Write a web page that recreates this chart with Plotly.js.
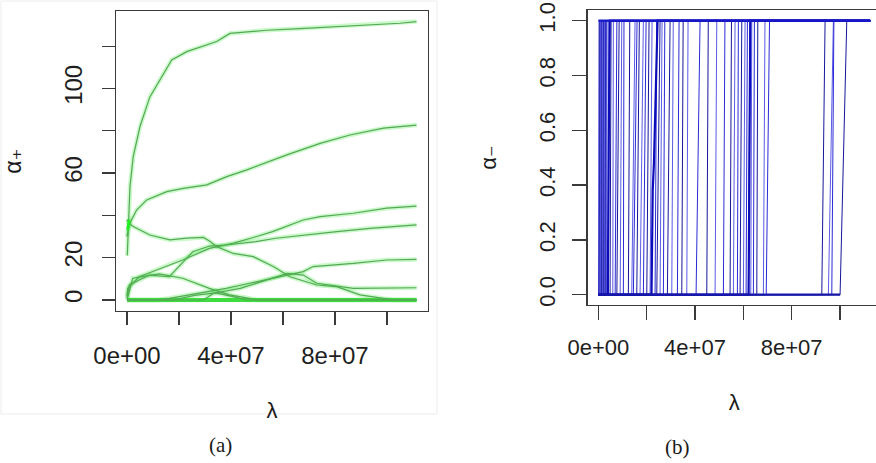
<!DOCTYPE html>
<html>
<head>
<meta charset="utf-8">
<script src="https://cdn.plot.ly/plotly-3.0.1.min.js"></script>
<style>
html,body{margin:0;padding:0;overflow:hidden;background:#fff;}
#chart{width:884px;height:463px;}
</style>
</head>
<body>
<div id="chart"></div>
<script>
// ---------- Panel (a): alpha+ paths (lambda in units of 1e6) ----------
const a1x = [0.1,0.5,1.15,2.4,5,8.8,13,17.2,23,34.5,39.6,53.7,66.5,79.3,92.2,105,111.4];
const a1y = [21,31.5,53.6,67.8,82,96,105,113.5,117.4,122.2,126,127.5,128.3,129.2,129.8,130.8,131.6];
const a2x = [0,0.8,1.8,3.7,7.6,15.3,21.7,30.7,38.4,46.1,61.5,74.3,85.8,98.7,111.4];
const a2y = [30,35,38,42.5,47.3,51.2,52.8,54.4,58.3,61.5,68.6,74,78,81.2,82.7];
const a3x = [0,1,2.4,8.8,16.5,23,29.4,32,34.5,40.9,48.6,56.3,62.7,73,80.7,89.6,98.6,102.3,111.4];
const a3y = [38,36,34.7,30.7,28.4,29.2,29.6,27.6,25.2,22,20.5,15.8,11,7.1,6.3,2.4,0.8,0,0];
const a4x = [0,0.3,4.7,11.2,21.4,31.7,40.7,49.6,56,67.8,74.3,87.1,99.9,111.4];
const a4y = [2,5.5,11,14.2,18.9,24.4,26.8,29.9,32.3,37.8,39.4,41,43.4,44.4];
const a5x = [0,0.9,8.6,16.3,25.3,31.7,38.1,49.6,57.3,67.8,80.7,93.5,111.4];
const a5y = [1,7.1,11.8,11,22.8,25.5,26,27.6,29.2,30.7,32.3,33.9,35.5];
const a6x = [0,2.2,12.4,21.4,31.7,39.4,47.1,49.6,111.4];
const a6y = [0,10.3,12.3,10.3,5.5,2.4,0.8,0,0];
const a7x = [0,12,16.3,27.8,38.1,47.1,56,62.7,67.8,71.6,87.1,99.9,111.4];
const a7y = [0,0,0.8,3.2,5.5,7.9,10.3,11.8,13.4,15.8,17.3,18.9,19.2];
const a8x = [0,29.5,33.3,43.6,53.8,61.8,67.8,73,87.1,111.4];
const a8y = [0,0,3.2,5.5,9.5,12.6,11.8,7.9,5.5,5.8];
const a9x = [0,18,26,34,40,46,111.4];
const a9y = [0,0,2.2,3.4,1.8,0,0];
const a0x = [0,111.4];
const a0y = [0,0];

// ---------- Panel (b): alpha- switches 0 -> 1 (lambda from, lambda to, 1e6) ----------
const swFrom = [0.1,0.4,0.7,1.0,1.3,1.6,1.9,2.2,2.5,2.8,3.1,3.4,
  4.14,4.84,5.96,6.95,7.66,9.03,10.35,12.42,13.83,14.49,15.9,17.26,18.63,20.04,21.4,
  23.47,24.18,25.54,26.91,28.57,30.39,32.71,34.53,36.6,40.45,44.88,48.31,51.75,54.52,
  55.89,57.55,58.66,60.03,61.15,62.1,63.09,64.17,65.58,68.31,69.49,92.49,95.22,96.63,100.06];
const swTo = [0.3,0.6,0.9,1.2,1.5,1.8,2.1,2.4,2.7,3.0,3.3,3.6,
  4.43,5.26,6.21,7.66,8.61,9.69,10.6,13.0,15.19,16.02,16.97,18.63,19.75,20.99,22.23,
  24.18,25.54,26.37,27.5,29.69,31.0,33.41,35.1,37.13,42.1,45.5,49.02,52.4,55.1,
  56.59,57.96,59.37,60.73,61.7,62.8,63.51,64.6,66.0,68.97,70.85,93.85,97.29,97.5,102.84];
const bMax = 112.5;
// intermediate-valued paths
const m1x = [0,3.9,4.3,4.7,112.5];      const m1y = [0,0,0.55,1,1];
const m2x = [0,22,22.5,23,23.5,24,24.5,112.5]; const m2y = [0,0,0.38,0.48,0.65,0.85,1,1];
const m3x = [0,62.2,62.5,62.9,112.5];   const m3y = [0,0,0.45,1,1];

const xTickAll = [0,20,40,60,80,100];
const xTickLab = [0,40,80];
const xTickText = ["0e+00","4e+07","8e+07"];
const yTickAllA = [0,20,40,60,80,100,120];
const yTickLabA = [0,20,60,100];
const yTickTextA = ["0","20","60","100"];
const yTickValsB = [0,0.2,0.4,0.6,0.8,1.0];
const yTickTextB = ["0.0","0.2","0.4","0.6","0.8","1.0"];

const M = 1e6;
const sc = arr => arr.map(v => v*M);

const traces = [];
const aPaths = [[a1x,a1y],[a2x,a2y],[a3x,a3y],[a4x,a4y],[a5x,a5y],[a6x,a6y],[a7x,a7y],[a8x,a8y],[a9x,a9y]];
aPaths.forEach(p => traces.push({x:sc(p[0]),y:p[1],type:'scatter',mode:'lines',xaxis:'x',yaxis:'y',
  line:{color:'rgba(70,235,70,0.28)',width:4.5},hoverinfo:'skip',showlegend:false}));
traces.push({x:sc(a0x),y:a0y,type:'scatter',mode:'lines',xaxis:'x',yaxis:'y',
  line:{color:'#3fdc3f',width:4},showlegend:false});
aPaths.forEach(p => traces.push({x:sc(p[0]),y:p[1],type:'scatter',mode:'lines',xaxis:'x',yaxis:'y',
  line:{color:'#55a855',width:1.2},showlegend:false}));
traces.push({x:sc([0.3,0.6,0.9]),y:[33,36,38],type:'scatter',mode:'lines',xaxis:'x',yaxis:'y',
  line:{color:'#22ee22',width:3},showlegend:false});

const blues = ['#2a2ad6','#16169a','#5a5ae6'];
swFrom.forEach((s,i) => traces.push({x:sc([0,s,swTo[i],bMax]),y:[0,0,1,1],type:'scatter',mode:'lines',
  xaxis:'x2',yaxis:'y2',line:{color:blues[i%3],width:1},showlegend:false}));
[[m1x,m1y],[m2x,m2y],[m3x,m3y]].forEach(p => traces.push({x:sc(p[0]),y:p[1],type:'scatter',mode:'lines',
  xaxis:'x2',yaxis:'y2',line:{color:'#0c0cb8',width:2.2},showlegend:false}));
traces.push({x:sc([0,bMax]),y:[1,1],type:'scatter',mode:'lines',xaxis:'x2',yaxis:'y2',
  line:{color:'#1818c8',width:2.2},showlegend:false});
traces.push({x:sc([0,swFrom[swFrom.length-1]]),y:[0,0],type:'scatter',mode:'lines',xaxis:'x2',yaxis:'y2',
  line:{color:'#1818a8',width:2.2},showlegend:false});

const W = 884, H = 463;
const SANS = 'Liberation Sans, DejaVu Sans, Arial, sans-serif';
const tf = {family:SANS, size:24, color:'#1e1e1e'};
const tfB = {family:SANS, size:22, color:'#1e1e1e'};
const axBase = {showgrid:false, zeroline:false, showline:true, mirror:true, linecolor:'#3a3a3a',
  linewidth:1.3, ticks:'outside', tickcolor:'#3a3a3a', tickwidth:1.2, fixedrange:true, automargin:false};
const minorTicks = (vals, len) => ({tickvals:vals, ticks:'outside', ticklen:len, tickcolor:'#3a3a3a', tickwidth:1.2, showgrid:false});
const ttl = (text, size, standoff) => ({text:text, standoff:standoff, font:{family:SANS, size:size, color:'#1a1a1a'}});

const ann = (text, px, py, size, fam) => ({text:text, x:px/W, y:1-py/H, xref:'paper', yref:'paper',
  xanchor:'center', yanchor:'middle', showarrow:false,
  font:{family:fam, size:size, color:'#1a1a1a'}});

const layout = {
  width:W, height:H, margin:{l:0,r:0,t:0,b:0}, paper_bgcolor:'#fff', plot_bgcolor:'#fff',
  showlegend:false,
  xaxis:Object.assign({}, axBase, {domain:[116/W,428/W], range:[-4.23e6,115.8e6],
    tickmode:'array', tickvals:sc(xTickLab), ticktext:xTickText, ticklen:13, tickfont:tf, ticklabelstandoff:10,
    minor:minorTicks(sc(xTickAll),13), title:ttl('λ',22,34)}),
  yaxis:Object.assign({}, axBase, {domain:[(H-311)/H,(H-11)/H], range:[-5.2,136.6],
    tickmode:'array', tickvals:yTickLabA, ticktext:yTickTextA, ticklen:13, tickangle:-90, tickfont:tf, ticklabelstandoff:10,
    minor:minorTicks(yTickAllA,13), title:ttl('α₊',23,40)}),
  xaxis2:Object.assign({}, axBase, {anchor:'y2', domain:[587.5/W,881/W], range:[-4.5e6,117e6],
    tickmode:'array', tickvals:sc(xTickLab), ticktext:xTickText, ticklen:14, tickfont:tfB, ticklabelstandoff:8,
    minor:minorTicks(sc(xTickAll),14), title:ttl('λ',22,36)}),
  yaxis2:Object.assign({}, axBase, {anchor:'x2', domain:[(H-305)/H,(H-10)/H], range:[-0.0376,1.039],
    tickmode:'array', tickvals:yTickValsB, ticktext:yTickTextB, ticklen:14, tickangle:-90, tickfont:tfB, ticklabelstandoff:8,
    title:ttl('α₋',22,32)}),
  shapes:[{type:'rect',xref:'paper',yref:'paper',x0:1/W,x1:437/W,y0:1-414/H,y1:1-1/H,
    line:{color:'#ececec',width:1}}],
  annotations:[
    ann('(a)',220,445,21,'Liberation Serif, Times New Roman, serif'),
    ann('(b)',677,447,21,'Liberation Serif, Times New Roman, serif')
  ]
};
Plotly.newPlot('chart', traces, layout, {staticPlot:true, displayModeBar:false});
</script>
</body>
</html>
